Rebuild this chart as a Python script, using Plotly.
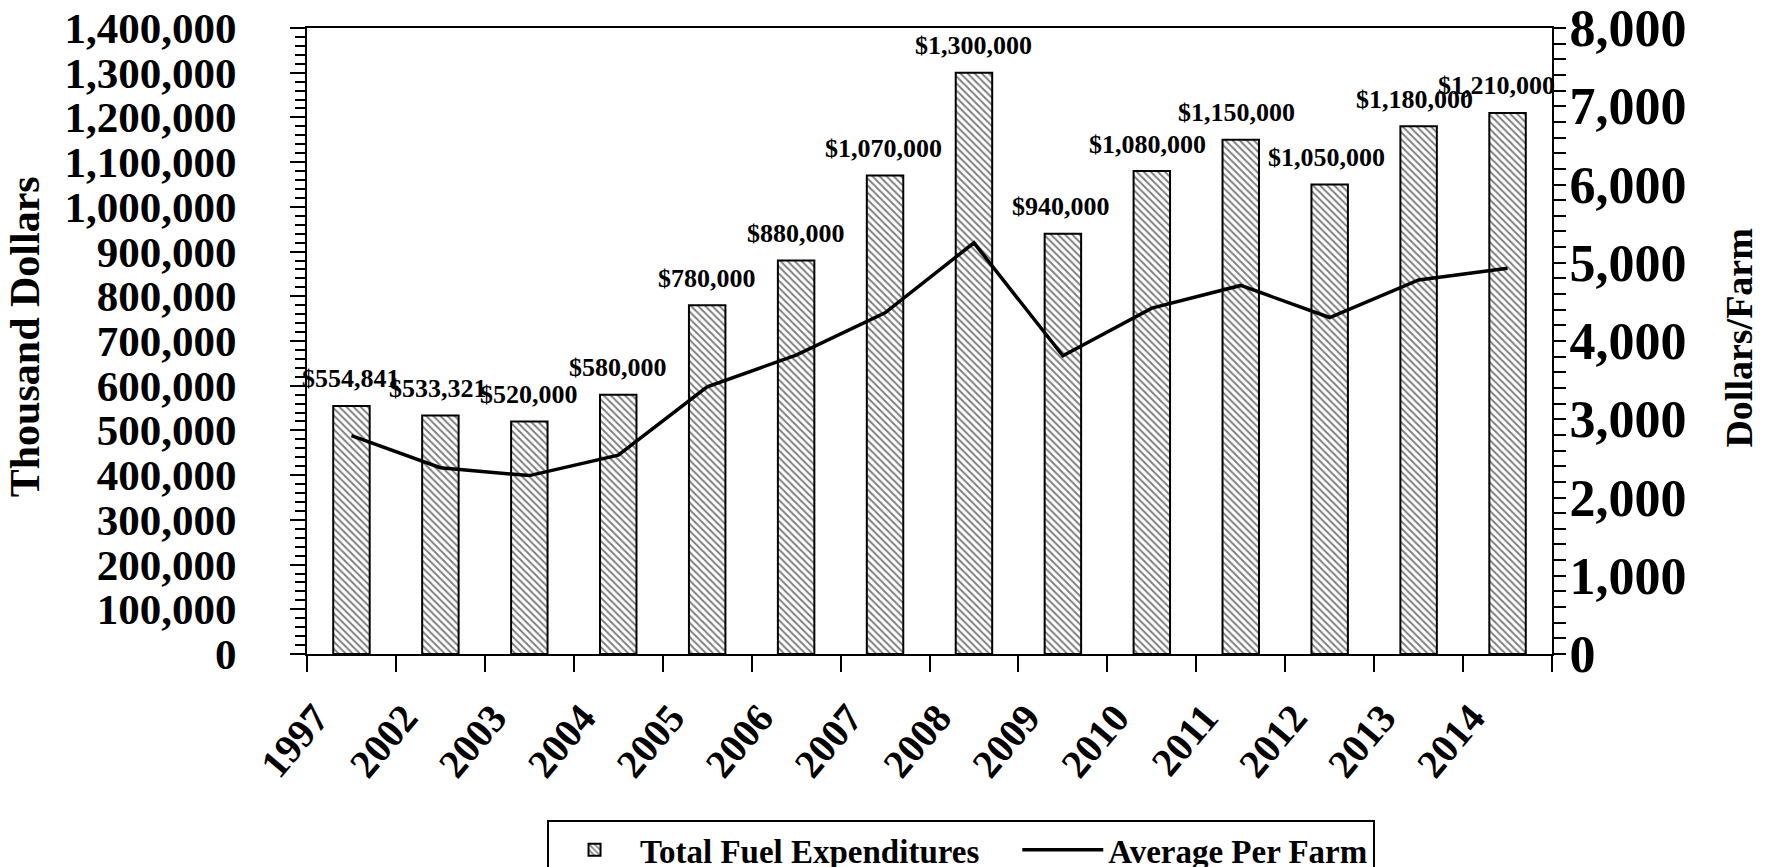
import plotly.graph_objects as go

# ---- data ----
years = ["1997", "2002", "2003", "2004", "2005", "2006", "2007",
         "2008", "2009", "2010", "2011", "2012", "2013", "2014"]
total_fuel = [554841, 533321, 520000, 580000, 780000, 880000, 1070000,
              1300000, 940000, 1080000, 1150000, 1050000, 1180000, 1210000]
avg_per_farm = [2790, 2380, 2280, 2540, 3415, 3820, 4360,
                5255, 3810, 4420, 4710, 4300, 4780, 4930]
left_ticks = list(range(0, 1400001, 100000))
right_ticks = list(range(0, 8001, 1000))

# small horizontal nudges of the value labels (style only)
label_xshift = [0, -2, 0, 0, 0, 0, -2, 0, -2, -4, -4, -3, -4, -11]

FONT = "Liberation Serif, Times New Roman, serif"

fig = go.Figure()
fig.add_trace(go.Bar(
    x=years, y=total_fuel, name="Total Fuel Expenditures\u00a0\u00a0\u00a0\u00a0",
    marker=dict(color="white",
                line=dict(color="black", width=2),
                pattern=dict(shape="\\", fgcolor="black", bgcolor="white",
                             size=5, solidity=0.4)),
    yaxis="y",
))
fig.add_trace(go.Scatter(
    x=years, y=avg_per_farm, name="Average Per Farm",
    mode="lines", line=dict(color="black", width=3.5),
    yaxis="y2",
))

# value labels above bars (x given as category index on the category axis)
for i, v in enumerate(total_fuel):
    fig.add_annotation(x=i, y=v, xref="x", yref="y", text=f"${v:,.0f}",
                       showarrow=False, yshift=27, xshift=label_xshift[i],
                       xanchor="center", yanchor="middle",
                       font=dict(family=FONT, size=26, color="black", weight="bold"))

# axis titles
fig.add_annotation(x=-0.2265, y=0.506, xref="paper", yref="paper",
                   xanchor="center", yanchor="middle",
                   text="Thousand Dollars", textangle=-90, showarrow=False,
                   font=dict(family=FONT, size=42, color="black", weight="bold"))
fig.add_annotation(x=1.150, y=0.505, xref="paper", yref="paper",
                   xanchor="center", yanchor="middle",
                   text="Dollars/Farm", textangle=-90, showarrow=False,
                   font=dict(family=FONT, size=38, color="black", weight="bold"))

fig.update_layout(
    width=1759, height=859,
    margin=dict(l=299, r=215, t=20, b=213, autoexpand=False),
    paper_bgcolor="white", plot_bgcolor="white",
    bargap=0.59,
    font=dict(family=FONT, color="black", weight="bold"),
    xaxis=dict(
        type="category", tickson="boundaries", range=[-0.5, len(years) - 0.5],
        showline=True, linecolor="black", linewidth=2, mirror=True,
        ticks="outside", ticklen=16, tickwidth=2, tickcolor="black",
        tickangle=-50, ticklabelstandoff=22, ticklabelshift=-36,
        ticklabeloverflow="allow",
        tickfont=dict(family=FONT, size=40, color="black", weight="bold"),
        showgrid=False, zeroline=False,
    ),
    yaxis=dict(
        range=[0, 1400000], tickvals=left_ticks, tickformat=",d",
        showline=True, linecolor="black", linewidth=2,
        ticks="outside", ticklen=15, tickwidth=2, tickcolor="black",
        minor=dict(dtick=20000, ticks="outside", ticklen=10, tickwidth=1.5,
                   tickcolor="black", showgrid=False),
        ticklabelstandoff=45, ticklabeloverflow="allow",
        tickfont=dict(family=FONT, size=43, color="black", weight="bold"),
        showgrid=False, zeroline=False,
    ),
    yaxis2=dict(
        overlaying="y", side="right",
        range=[0, 8000], tickvals=right_ticks, tickformat=",d",
        showline=True, linecolor="black", linewidth=2,
        ticks="outside", ticklen=12, tickwidth=2, tickcolor="black",
        minor=dict(dtick=200, ticks="outside", ticklen=12, tickwidth=1.5,
                   tickcolor="black", showgrid=False),
        ticklabelstandoff=-7, ticklabeloverflow="allow",
        tickfont=dict(family=FONT, size=52, color="black", weight="bold"),
        showgrid=False, zeroline=False,
    ),
    legend=dict(
        orientation="h", x=0.1928, y=-0.265, xanchor="left", yanchor="top",
        bordercolor="black", borderwidth=2, bgcolor="white",
        font=dict(family=FONT, size=33, color="black", weight="bold"),
        itemwidth=81, tracegroupgap=0,
    ),
    showlegend=True,
)

fig.write_html("out.html")
